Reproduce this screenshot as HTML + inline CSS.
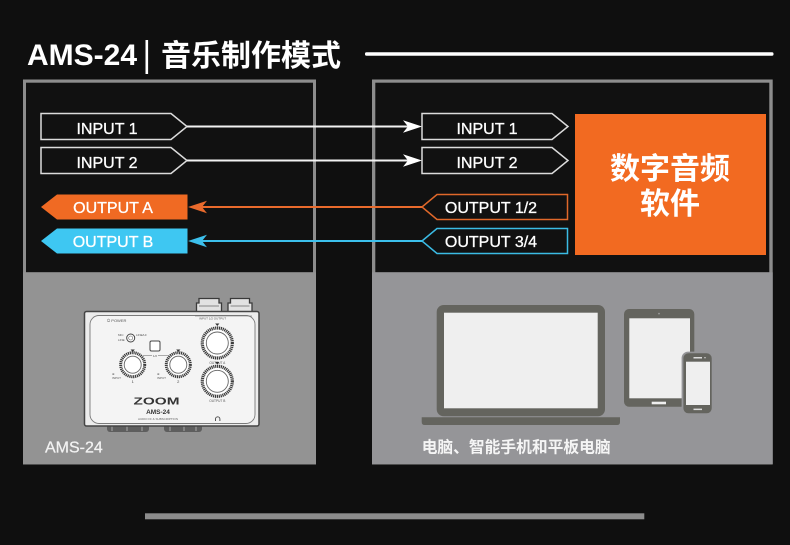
<!DOCTYPE html>
<html>
<head>
<meta charset="utf-8">
<style>
  html,body{margin:0;padding:0;background:#0f0f0f;}
  svg{display:block;}
  .lat{font-family:"Liberation Sans","Noto Sans CJK SC",sans-serif;}
  .cjk{font-family:"Liberation Sans","Noto Sans CJK SC",sans-serif;}
  .lbl{stroke:#ffffff;stroke-width:0.3px;}
</style>
</head>
<body>
<svg width="790" height="545" viewBox="0 0 790 545" xmlns="http://www.w3.org/2000/svg">
  <rect x="0" y="0" width="790" height="545" fill="#0f0f0f"/>

  <!-- Title -->
  <text x="27" y="65" class="lat" font-size="30" font-weight="bold" fill="#ffffff">AMS-24</text>
  <rect x="145.5" y="40" width="2.6" height="34" fill="#ffffff"/>
  <text x="161" y="66" class="cjk" font-size="30" font-weight="bold" fill="#ffffff" textLength="180" lengthAdjust="spacingAndGlyphs">音乐制作模式</text>
  <rect x="365" y="52.3" width="408.5" height="3.4" rx="1.5" fill="#ffffff"/>

  <!-- Left panel -->
  <rect x="23" y="79.5" width="293" height="385" fill="#8d8d8d"/>
  <rect x="26" y="82.7" width="287" height="189.6" fill="#111111"/>
  <rect x="23" y="272.3" width="293" height="191.7" fill="#939393"/>

  <!-- Right panel -->
  <rect x="372" y="79.5" width="400.7" height="385" fill="#8d8d8d"/>
  <rect x="375.3" y="82.7" width="394" height="189.6" fill="#111111"/>
  <rect x="372" y="272.3" width="400.7" height="191.7" fill="#959598"/>

  <!-- Left INPUT boxes -->
  <polygon points="41,113.5 171,113.5 187,126.5 171,139.5 41,139.5" fill="#111" stroke="#dcdcdc" stroke-width="1.5"/>
  <text x="107" y="134" class="lat lbl" font-size="16" fill="#ffffff" text-anchor="middle">INPUT 1</text>
  <polygon points="41,147.5 171,147.5 187,160.5 171,173.5 41,173.5" fill="#111" stroke="#dcdcdc" stroke-width="1.5"/>
  <text x="107" y="168" class="lat lbl" font-size="16" fill="#ffffff" text-anchor="middle">INPUT 2</text>

  <!-- Left OUTPUT boxes -->
  <polygon points="41,207 57,194.5 187.5,194.5 187.5,219.5 57,219.5" fill="#f06a23"/>
  <text x="113" y="213" class="lat lbl" font-size="16" fill="#ffffff" text-anchor="middle">OUTPUT A</text>
  <polygon points="41,241 57,228.5 187.5,228.5 187.5,253.5 57,253.5" fill="#3ec7f2"/>
  <text x="113" y="247" class="lat lbl" font-size="16" fill="#ffffff" text-anchor="middle">OUTPUT B</text>

  <!-- Right INPUT boxes -->
  <polygon points="422,113.5 552,113.5 568,126.5 552,139.5 422,139.5" fill="#111" stroke="#dcdcdc" stroke-width="1.5"/>
  <text x="487" y="134" class="lat lbl" font-size="16" fill="#ffffff" text-anchor="middle">INPUT 1</text>
  <polygon points="422,147.5 552,147.5 568,160.5 552,173.5 422,173.5" fill="#111" stroke="#dcdcdc" stroke-width="1.5"/>
  <text x="487" y="168" class="lat lbl" font-size="16" fill="#ffffff" text-anchor="middle">INPUT 2</text>

  <!-- Right OUTPUT boxes -->
  <polygon points="422,207 437,194.5 567.5,194.5 567.5,219.5 437,219.5" fill="#111" stroke="#e0682a" stroke-width="1.5"/>
  <text x="491" y="213" class="lat lbl" font-size="16" fill="#ffffff" text-anchor="middle">OUTPUT 1/2</text>
  <polygon points="422,241 437,228.5 567.5,228.5 567.5,253.5 437,253.5" fill="#111" stroke="#3bbbe4" stroke-width="1.5"/>
  <text x="491" y="247" class="lat lbl" font-size="16" fill="#ffffff" text-anchor="middle">OUTPUT 3/4</text>

  <!-- Connectors -->
  <line x1="187" y1="126.5" x2="408" y2="126.5" stroke="#f2f2f2" stroke-width="2"/>
  <polygon points="422,126.5 403,120.3 408,126.5 403,132.7" fill="#ffffff"/>
  <line x1="187" y1="160.5" x2="408" y2="160.5" stroke="#f2f2f2" stroke-width="2"/>
  <polygon points="422,160.5 403,154.3 408,160.5 403,166.7" fill="#ffffff"/>

  <line x1="200" y1="207" x2="422" y2="207" stroke="#e96a2c" stroke-width="2"/>
  <polygon points="188,207 207,200.8 202,207 207,213.2" fill="#e96a2c"/>
  <line x1="200" y1="241" x2="422" y2="241" stroke="#3cc0ec" stroke-width="2"/>
  <polygon points="188,241 207,234.8 202,241 207,247.2" fill="#3cc0ec"/>

  <!-- Orange software box -->
  <rect x="575" y="114" width="191" height="141" fill="#f26a21"/>
  <text x="670" y="179" class="cjk" font-size="30" font-weight="bold" fill="#ffffff" text-anchor="middle">数字音频</text>
  <text x="670" y="214" class="cjk" font-size="30" font-weight="bold" fill="#ffffff" text-anchor="middle">软件</text>

  <!-- AMS-24 device drawing -->
  <g>
    <!-- top connectors -->
    <path d="M196.5,312 L196.5,303 L199,303 L199,298.5 L219,298.5 L219,303 L221.5,303 L221.5,312 Z" fill="#e2e2e2" stroke="#3a3a3a" stroke-width="1.3"/>
    <path d="M228,312 L228,303 L230.5,303 L230.5,298.5 L249.5,298.5 L249.5,303 L252,303 L252,312 Z" fill="#e2e2e2" stroke="#3a3a3a" stroke-width="1.3"/>
    <line x1="199" y1="306" x2="219" y2="306" stroke="#666" stroke-width="0.7"/>
    <line x1="230.5" y1="306" x2="249.5" y2="306" stroke="#666" stroke-width="0.7"/>
    <!-- bottom feet -->
    <rect x="107" y="424" width="42" height="8" rx="3" fill="#5e5e5e"/>
    <rect x="164" y="424" width="38" height="8" rx="3" fill="#5e5e5e"/>
    <line x1="112" y1="426" x2="112" y2="431" stroke="#bbb" stroke-width="0.8"/>
    <line x1="127" y1="426" x2="127" y2="431" stroke="#bbb" stroke-width="0.8"/>
    <line x1="142" y1="426" x2="142" y2="431" stroke="#bbb" stroke-width="0.8"/>
    <line x1="170" y1="426" x2="170" y2="431" stroke="#bbb" stroke-width="0.8"/>
    <line x1="184" y1="426" x2="184" y2="431" stroke="#bbb" stroke-width="0.8"/>
    <line x1="196" y1="426" x2="196" y2="431" stroke="#bbb" stroke-width="0.8"/>
    <!-- body -->
    <rect x="84.5" y="311.5" width="174.5" height="114.5" rx="2" fill="#ececec" stroke="#444" stroke-width="1.5"/>
    <rect x="90" y="315.5" width="165" height="108" rx="9" fill="#f4f4f4" stroke="#7a7a7a" stroke-width="0.9"/>
    <line x1="195" y1="316" x2="252" y2="316" stroke="#666" stroke-width="0.6"/>
    <text x="199" y="319.5" font-family="Liberation Sans, sans-serif" font-size="3" fill="#555">INPUT 1/2  OUTPUT</text>
    <!-- power -->
    <text x="107" y="322" font-family="Liberation Sans, sans-serif" font-size="4" fill="#555">⏻ POWER</text>
    <!-- switch -->
    <circle cx="130.7" cy="338" r="4" fill="#fff" stroke="#444" stroke-width="1"/>
    <circle cx="130.7" cy="338" r="2" fill="none" stroke="#666" stroke-width="0.6"/>
    <text x="118" y="336" font-family="Liberation Sans, sans-serif" font-size="3" fill="#555">MIC</text>
    <text x="118" y="341" font-family="Liberation Sans, sans-serif" font-size="3" fill="#555">LINE</text>
    <text x="136" y="336" font-family="Liberation Sans, sans-serif" font-size="3" fill="#555">LINE/HI</text>
    <!-- square button -->
    <rect x="150" y="341" width="10" height="10" rx="1.5" fill="#fff" stroke="#444" stroke-width="1"/>
    <line x1="143" y1="355.5" x2="152" y2="355.5" stroke="#777" stroke-width="0.6"/>
    <line x1="158" y1="355.5" x2="168" y2="355.5" stroke="#777" stroke-width="0.6"/>
    <text x="155" y="357" font-family="Liberation Sans, sans-serif" font-size="3" fill="#555" text-anchor="middle">1/2</text>
    <!-- knob 1 -->
    <polygon points="130.6,349.5 134.8,349.5 132.7,352" fill="#333"/>
    <circle cx="132.7" cy="364.7" r="12" fill="#fff" stroke="#3a3a3a" stroke-width="3" stroke-dasharray="1.2 0.7"/>
    <circle cx="132.7" cy="364.7" r="8.5" fill="#fff" stroke="#666" stroke-width="0.9"/>
    <text x="112" y="375" font-family="Liberation Sans, sans-serif" font-size="3" fill="#555">⊕</text>
    <text x="112" y="379" font-family="Liberation Sans, sans-serif" font-size="3" fill="#555">INPUT</text>
    <text x="132.7" y="383" font-family="Liberation Sans, sans-serif" font-size="4" fill="#444" text-anchor="middle">1</text>
    <!-- knob 2 -->
    <polygon points="176.2,349.5 180.4,349.5 178.3,352" fill="#333"/>
    <circle cx="178.3" cy="364.7" r="12" fill="#fff" stroke="#3a3a3a" stroke-width="3" stroke-dasharray="1.2 0.7"/>
    <circle cx="178.3" cy="364.7" r="8.5" fill="#fff" stroke="#666" stroke-width="0.9"/>
    <text x="157" y="375" font-family="Liberation Sans, sans-serif" font-size="3" fill="#555">⊕</text>
    <text x="157" y="379" font-family="Liberation Sans, sans-serif" font-size="3" fill="#555">INPUT</text>
    <text x="178.3" y="383" font-family="Liberation Sans, sans-serif" font-size="4" fill="#444" text-anchor="middle">2</text>
    <!-- output A knob -->
    <polygon points="215.2,323.5 219.4,323.5 217.3,326" fill="#333"/>
    <circle cx="217.3" cy="343" r="15" fill="#fff" stroke="#3a3a3a" stroke-width="3.2" stroke-dasharray="1.2 0.7"/>
    <circle cx="217.3" cy="343" r="11" fill="#fff" stroke="#666" stroke-width="0.9"/>
    <text x="217.3" y="364" font-family="Liberation Sans, sans-serif" font-size="3.2" fill="#555" text-anchor="middle">OUTPUT A</text>
    <!-- output B knob -->
    <polygon points="215.2,362 219.4,362 217.3,364.5" fill="#333"/>
    <circle cx="217.3" cy="381.3" r="15" fill="#fff" stroke="#3a3a3a" stroke-width="3.2" stroke-dasharray="1.2 0.7"/>
    <circle cx="217.3" cy="381.3" r="11" fill="#fff" stroke="#666" stroke-width="0.9"/>
    <text x="217.3" y="402" font-family="Liberation Sans, sans-serif" font-size="3.2" fill="#555" text-anchor="middle">OUTPUT B</text>
    <!-- logo -->
    <text x="156.5" y="404.5" font-family="Liberation Sans, sans-serif" font-size="10" font-weight="bold" fill="#333" text-anchor="middle" textLength="46" lengthAdjust="spacingAndGlyphs">ZOOM</text>
    <text x="158" y="414" font-family="Liberation Sans, sans-serif" font-size="6.5" font-weight="bold" fill="#333" text-anchor="middle">AMS-24</text>
    <text x="158" y="420" font-family="Liberation Sans, sans-serif" font-size="3" fill="#666" text-anchor="middle">AUDIO I/F &amp; SUBSCRIPTION</text>
    <!-- headphone -->
    <path d="M215.5,421 L215.5,419 A2.2,2.2 0 0 1 219.9,419 L219.9,421" fill="none" stroke="#444" stroke-width="0.9"/>
  </g>

  <text x="45" y="452.5" class="lat" font-size="16" fill="#f2f2f2" stroke="#f2f2f2" stroke-width="0.25">AMS-24</text>

  <!-- Devices -->
  <!-- laptop -->
  <rect x="436.7" y="305" width="168.3" height="111.3" rx="7" fill="#64645e"/>
  <rect x="444" y="312.7" width="153.7" height="95.6" fill="#efefef"/>
  <path d="M421.7,417.3 L620,417.3 L620,422 Q620,425 617,425 L424.7,425 Q421.7,425 421.7,422 Z" fill="#64645e"/>
  <!-- tablet -->
  <rect x="624" y="309" width="70.3" height="97.7" rx="5" fill="#64645e"/>
  <rect x="629.3" y="318.3" width="60.7" height="80" fill="#efefef"/>
  <rect x="651.7" y="401.7" width="14.3" height="2.6" fill="#efefef"/>
  <circle cx="659" cy="313.6" r="0.9" fill="#9a9a9a"/>
  <!-- phone -->
  <rect x="681.6" y="351.6" width="31.8" height="63.4" rx="6.5" fill="#959598"/>
  <rect x="683.4" y="353.3" width="28.3" height="60" rx="5" fill="#64645e"/>
  <rect x="686" y="361.7" width="24" height="43.3" fill="#efefef"/>
  <rect x="693.5" y="357" width="8.5" height="1.5" fill="#dcdcdc"/>
  <circle cx="705" cy="357.7" r="0.7" fill="#dcdcdc"/>
  <rect x="693.5" y="408.6" width="8.5" height="1.5" fill="#dcdcdc"/>

  <text x="421.7" y="452.5" class="cjk" font-size="16" font-weight="bold" fill="#f5f5f5" textLength="189" lengthAdjust="spacingAndGlyphs">电脑、智能手机和平板电脑</text>

  <!-- bottom bar -->
  <rect x="145" y="513.3" width="499.3" height="6" fill="#8c8c8c"/>
</svg>
</body>
</html>
